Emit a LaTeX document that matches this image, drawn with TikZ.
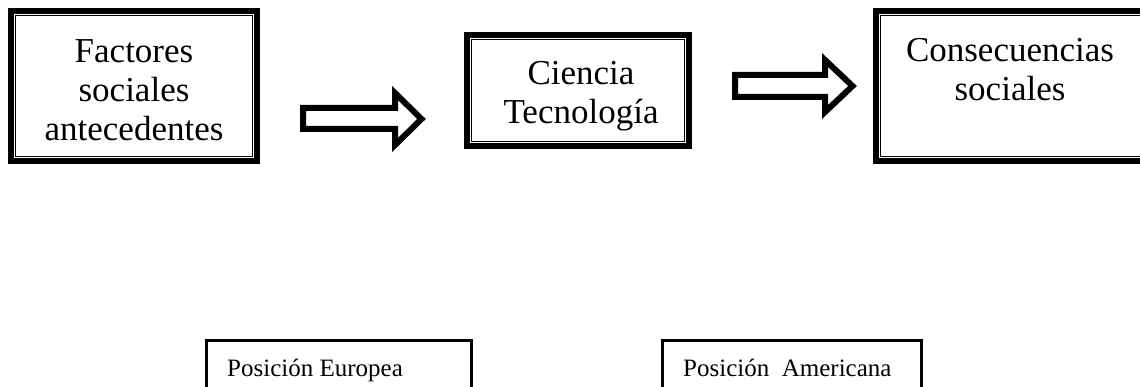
\documentclass[tikz,border=0pt]{standalone}
\usepackage{fontspec}
\setmainfont{Liberation Serif}
\usetikzlibrary{calc}
\begin{document}
\begin{tikzpicture}[x=1pt,y=-1pt,
  outerframe/.style={draw=black,line width=6pt,minimum width=#1,inner sep=0pt},
  thinframe/.style={draw=black,line width=1.4pt},
  bigtext/.style={font=\fontsize{35}{39}\selectfont,align=center,inner sep=0pt},
  smalltext/.style={font=\fontsize{25}{30}\selectfont,inner sep=0pt,anchor=base west},
  fatarrow/.style={draw=black,line width=6pt,line join=miter,miter limit=10,fill=white},
  plainbox/.style={draw=black,line width=2.5pt,inner sep=0pt,anchor=north west}]
\useasboundingbox (0,0) rectangle (1140,387);
\clip (0,0) rectangle (1140,387);
% top frames
\node[outerframe=246pt,minimum height=150pt] (fa) at (134,86) {};
\draw[thinframe] ($(fa.north west)+(7.25,7.25)$) rectangle ($(fa.south east)+(-7.25,-7.25)$);
\node[outerframe=222pt,minimum height=111pt] (ct) at (578,90.5) {};
\draw[thinframe] ($(ct.north west)+(7.25,7.25)$) rectangle ($(ct.south east)+(-7.25,-7.25)$);
\node[outerframe=284pt,minimum height=150pt] (cs) at (1018,86) {};
\draw[thinframe] ($(cs.north west)+(7.25,7.25)$) rectangle ($(cs.south east)+(-7.25,-7.25)$);
% texts
\node[bigtext] (fat) at (134,90) {Factores\\sociales\\antecedentes};
\node[bigtext] (ctt) at (581,96) {Ciencia\\Tecnología};
\node[bigtext] (cst) at (1010,70) {Consecuencias\\sociales};
% block arrows
\draw[fatarrow] (303,108) -- (395,108) -- (395,93) -- (421.5,119) -- (395,145) -- (395,129) -- (303,129) -- cycle;
\draw[fatarrow] (735,75) -- (825,75) -- (825,60) -- (852.5,86) -- (825,112) -- (825,97) -- (735,97) -- cycle;
% bottom boxes
\node[plainbox,minimum width=265pt,minimum height=80pt] (pe) at (205,339) {};
\node[smalltext] (pet) at (227,376) {Posición Europea};
\node[plainbox,minimum width=259pt,minimum height=80pt] (pa) at (661,339) {};
\node[smalltext] (pat) at (683,376) {Posición\ \ Americana};
\end{tikzpicture}
\end{document}
